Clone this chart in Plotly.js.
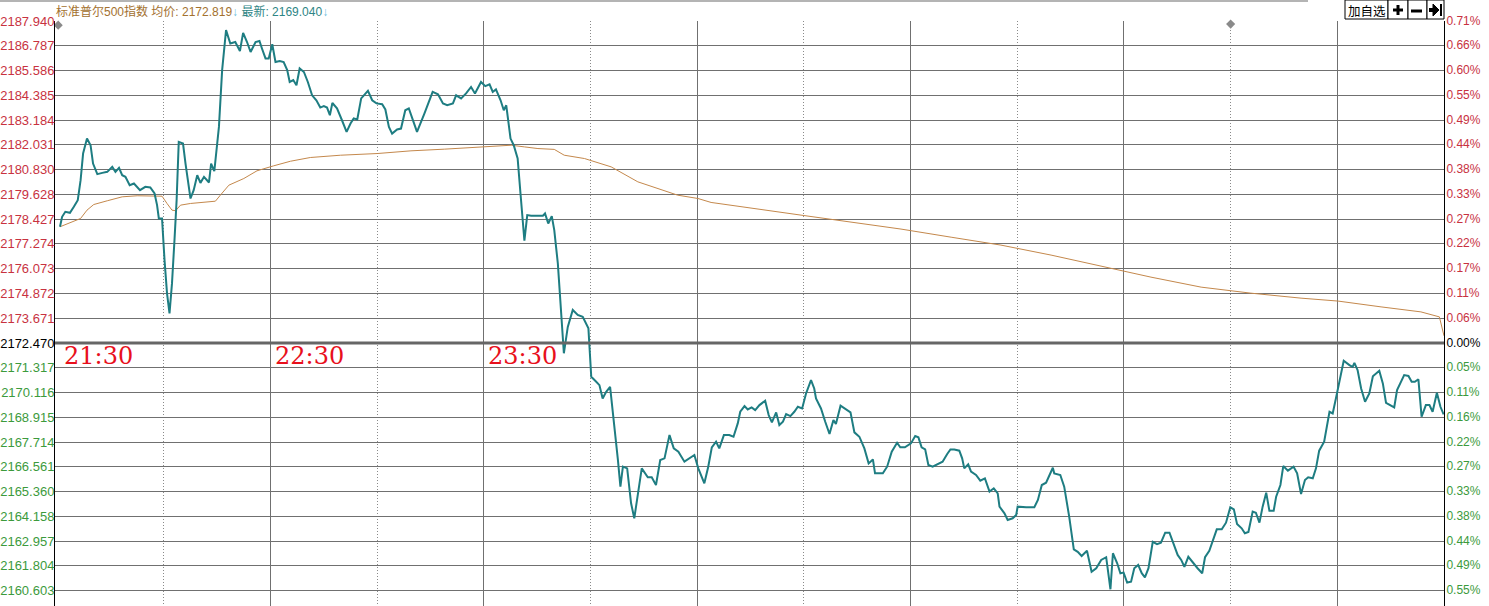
<!DOCTYPE html>
<html>
<head>
<meta charset="utf-8">
<script src="https://cdn.plot.ly/plotly-3.0.1.min.js"></script>
<style>
html,body{margin:0;padding:0;background:#fff;}
#chart{width:1489px;height:606px;}
</style>
</head>
<body>
<div id="chart"></div>
<script>
// ---- data (minutes after 21:30, price) ----
const priceMin = [0.8,1.4,2.3,3.6,4.7,5.8,6.6,7.3,8.4,9.4,10.1,11.3,12.7,14.1,15.5,16.4,17.4,18.3,19.2,20.4,
21.6,23.3,24.8,26.2,27.4,28.1,28.6,29.5,30.2,30.9,31.6,32.3,33.0,33.6,34.2,35.4,36.1,37.5,38.4,39.4,
40.3,41.3,42.7,43.3,44.2,45.5,46.4,47.5,48.7,50.1,51.4,52.3,53.4,54.4,55.8,56.9,57.6,58.6,59.5,60.5,
61.4,62.6,63.7,64.7,65.4,66.4,67.3,68.2,69.4,70.5,71.7,72.9,74.0,75.0,75.9,76.7,77.4,78.7,80.1,81.4,
82.5,83.4,84.4,85.5,87.4,88.6,89.8,91.4,92.3,93.3,94.2,95.6,96.7,97.9,98.9,99.8,101.2,103.3,105.6,107.1,
108.5,109.7,111.3,112.2,113.6,115.0,116.4,117.5,119.2,120.4,121.6,122.5,123.4,124.7,125.6,126.3,126.7,127.5,128.4,129.5,
130.3,131.4,132.2,133.3,135.2,136.6,137.2,138.1,139.1,139.8,140.8,141.5,142.5,143.6,145.0,146.4,147.8,149.4,150.2,151.6,
152.5,153.4,154.4,155.5,156.7,157.7,158.4,159.1,160.3,161.4,162.3,163.3,164.4,166.1,167.2,168.4,169.6,170.8,172.2,173.4,
174.7,176.4,177.8,179.2,180.3,182.0,183.1,184.1,185.3,186.2,187.5,189.0,190.2,191.4,192.1,193.3,194.2,195.3,196.3,197.5,
199.1,200.1,201.0,202.2,203.1,204.1,205.0,206.2,207.3,208.3,209.5,210.6,212.0,212.9,213.4,214.8,216.0,217.2,218.3,219.0,
220.3,221.4,223.1,224.2,225.6,227.0,228.2,229.4,230.0,232.2,233.4,234.7,236.2,237.1,238.4,240.1,241.3,242.2,243.1,244.1,
245.0,246.2,247.6,249.0,250.3,251.2,252.3,253.7,254.5,255.1,256.2,257.0,258.4,259.6,260.9,262.2,263.4,264.5,265.0,266.4,
267.3,268.7,269.7,270.1,272.5,274.8,275.8,276.9,278.1,280.0,280.4,282.1,283.2,284.6,285.9,287.0,288.1,289.6,290.9,292.2,
293.6,295.0,296.2,296.9,298.1,299.0,299.9,300.9,302.0,302.9,304.0,305.0,305.9,306.9,308.1,309.3,310.4,311.6,312.8,314.0,
315.1,316.1,317.0,318.1,319.3,320.7,322.0,322.8,324.0,325.0,326.1,327.5,328.7,329.9,330.9,331.8,333.1,334.0,335.0,336.2,
337.1,338.1,339.0,340.0,340.9,342.1,342.8,344.0,344.8,346.1,347.7,348.7,349.8,350.9,351.8,353.1,354.0,354.9,356.3,357.8,
358.7,359.6,360.6,361.8,363.4,364.3,364.8,365.7,366.7,367.8,369.0,370.0,371.8,372.8,373.7,376.0,376.8,378.8,380.0,380.9,
381.8,382.8,383.7,384.9,385.9,386.8,388.0,389.0,389.9];

const priceVal = [2178.06,2178.54,2178.78,2178.73,2179.02,2179.34,2180.30,2181.58,2182.30,2181.98,2181.10,2180.59,2180.65,2180.70,2180.94,2180.70,2180.89,2180.54,2180.46,2180.06,
2180.14,2179.82,2179.98,2179.95,2179.66,2179.10,2178.46,2178.46,2176.46,2174.86,2173.90,2175.34,2177.42,2179.34,2182.14,2182.06,2181.10,2179.42,2179.82,2180.54,
2180.17,2180.46,2180.19,2181.10,2180.73,2182.86,2185.59,2187.51,2186.87,2186.94,2186.51,2187.38,2186.94,2186.46,2186.94,2186.99,2186.63,2186.15,2186.15,2186.83,
2185.98,2186.03,2185.98,2185.59,2185.02,2185.11,2184.86,2185.67,2185.50,2185.02,2184.38,2184.14,2183.79,2183.86,2183.79,2183.42,2184.01,2183.75,2183.18,2182.62,
2183.02,2183.27,2183.22,2184.23,2184.59,2184.14,2183.99,2183.95,2183.70,2182.86,2182.54,2182.74,2182.78,2183.66,2183.75,2183.34,2182.62,2183.51,2184.54,2184.43,
2183.99,2183.90,2183.99,2184.38,2184.23,2184.47,2184.78,2184.47,2185.02,2184.82,2184.91,2184.54,2184.66,2184.14,2183.66,2183.90,2183.34,2182.30,2181.98,2181.34,
2179.66,2177.39,2178.62,2178.59,2178.59,2178.59,2178.70,2178.22,2178.57,2177.90,2176.30,2174.38,2171.98,2173.25,2174.06,2173.82,2173.73,2173.18,2170.85,2170.61,
2170.45,2169.81,2170.13,2170.37,2168.61,2166.85,2165.57,2166.53,2166.45,2164.77,2164.05,2165.09,2166.45,2166.02,2166.02,2165.65,2166.85,2166.93,2168.05,2167.41,
2167.25,2166.77,2166.93,2167.09,2166.45,2165.73,2166.53,2167.46,2167.73,2167.41,2168.05,2168.05,2167.97,2168.61,2169.17,2169.44,2169.28,2169.38,2169.25,2169.49,
2169.70,2169.01,2168.66,2169.14,2168.53,2168.69,2169.06,2168.96,2169.17,2169.41,2169.33,2170.05,2170.69,2170.29,2169.81,2169.33,2168.69,2168.10,2168.77,2168.58,
2169.46,2169.33,2169.14,2168.18,2167.97,2167.41,2166.69,2166.88,2166.21,2166.21,2166.53,2167.25,2167.68,2167.46,2167.46,2167.65,2168.00,2167.94,2167.46,2167.36,
2166.61,2166.53,2166.66,2166.77,2167.14,2167.36,2167.36,2167.30,2166.93,2166.45,2166.64,2166.29,2166.13,2165.86,2165.97,2165.33,2165.49,2165.25,2164.61,2164.29,
2163.97,2164.05,2164.21,2164.61,2164.58,2164.58,2164.93,2165.65,2165.76,2166.48,2166.21,2166.13,2165.57,2164.13,2162.56,2162.44,2162.24,2162.49,2161.48,2161.65,
2162.05,2162.18,2160.64,2162.37,2161.89,2161.41,2161.44,2160.96,2161.00,2161.65,2161.81,2161.41,2161.21,2161.65,2162.92,2162.81,2162.88,2163.36,2163.36,2162.85,
2162.29,2162.05,2161.72,2162.20,2161.92,2161.65,2161.41,2162.18,2162.49,2163.01,2163.52,2163.52,2163.84,2164.58,2164.48,2163.78,2163.57,2163.33,2163.39,2164.37,
2164.32,2163.84,2164.61,2165.28,2164.41,2164.41,2165.09,2165.65,2166.56,2166.34,2166.53,2166.21,2165.22,2165.89,2166.02,2165.97,2166.45,2167.30,2167.73,2169.17,
2169.09,2169.81,2170.61,2171.62,2171.41,2171.33,2171.52,2171.17,2170.29,2169.65,2170.05,2170.88,2171.14,2170.53,2169.60,2169.38,2170.21,2170.93,2170.89,2170.61,
2170.61,2170.73,2168.93,2169.49,2169.49,2169.17,2170.08,2169.41,2169.04];

const avgMin = [0.8,3.7,6.6,8.4,10.3,14.1,18.3,22.5,26.2,29.5,30.9,32.3,33.3,34.7,37.5,41.3,44.5,45.9,48.3,52.5,
56.2,60.9,65.6,71.2,79.7,90.0,99.5,108.9,120.2,127.7,131.4,135.2,139.8,142.6,148.3,155.8,163.3,168.9,174.5,180.2,
183.9,209.2,223.3,237.3,251.4,265.4,279.5,293.6,307.6,321.7,335.7,349.8,360.2,372.3,383.5,388.7,389.6,390];
const avgVal = [2178.06,2178.25,2178.46,2178.86,2179.13,2179.31,2179.50,2179.55,2179.55,2179.53,2179.18,2178.86,2178.83,2179.10,2179.18,2179.23,2179.29,2179.58,2180.06,2180.38,
2180.75,2180.99,2181.21,2181.39,2181.50,2181.58,2181.71,2181.79,2181.90,2181.98,2181.90,2181.82,2181.78,2181.50,2181.34,2180.94,2180.22,2179.90,2179.58,2179.42,
2179.23,2178.62,2178.28,2177.95,2177.56,2177.18,2176.70,2176.17,2175.64,2175.16,2174.87,2174.63,2174.49,2174.21,2173.97,2173.73,2173.01,2172.82];

const basePrice = 2172.47;
const priceTicks = [2187.940,2186.787,2185.586,2184.385,2183.184,2182.031,2180.830,2179.628,2178.427,2177.274,2176.073,2174.872,2173.671,
2172.470,2171.317,2170.116,2168.915,2167.714,2166.561,2165.360,2164.158,2162.957,2161.804,2160.603];
const priceTickLabels = ['2187.940','2186.787','2185.586','2184.385','2183.184','2182.031','2180.830','2179.628','2178.427','2177.274','2176.073','2174.872','2173.671',
'2172.470','2171.317','2170.116','2168.915','2167.714','2166.561','2165.360','2164.158','2162.957','2161.804','2160.603'];
const pctTickLabels = ['0.71%','0.66%','0.60%','0.55%','0.49%','0.44%','0.38%','0.33%','0.27%','0.22%','0.17%','0.11%','0.06%',
'0.00%','0.05%','0.11%','0.16%','0.22%','0.27%','0.33%','0.38%','0.44%','0.49%','0.55%'];
const hourGridMin = [60,120,180,240,300,360];          // xx:30 solid lines
const halfHourGridMin = [30,90,150,210,270,330,390];   // xx:00 dotted lines
const timeLabels = ['21:30','22:30','23:30'];
const timeLabelMin = [0,60,120];
const markerMin = [0.3,330];
const markerVal = [2187.75,2187.80];
const titleName = '标准普尔500指数';
const avgLast = '2172.819';
const lastPrice = '2169.040';

// ---- styling ----
const RED = '#c8323f', GREEN = '#3c9a3c', BLACK = '#000000';
function tickColor(v){ return Math.abs(v-basePrice) < 1e-6 ? BLACK : (v > basePrice ? RED : GREEN); }
const leftText = priceTicks.map((v,i)=>'<span style="color:'+tickColor(v)+'">'+priceTickLabels[i]+'</span>');
const rightText = priceTicks.map((v,i)=>'<span style="color:'+tickColor(v)+'">'+pctTickLabels[i]+'</span>');

const yRange = [2159.835, 2187.95];
const leftFont = {family:'Arial, "Liberation Sans", sans-serif', size:13, color:'#000'};
const rightFont = {family:'Arial, "Liberation Sans", sans-serif', size:12, color:'#000'};

const traces = [
  {x: avgMin, y: avgVal, type:'scatter', mode:'lines', line:{color:'#c4884c', width:1}, hoverinfo:'skip'},
  {x: priceMin, y: priceVal, type:'scatter', mode:'lines', line:{color:'#1e7d82', width:2}, hoverinfo:'skip'},
  {x: markerMin, y: markerVal, type:'scatter', mode:'markers', marker:{symbol:'diamond', size:7, color:'#8a8a8a'}, cliponaxis:false, hoverinfo:'skip'},
  {x: [0], y:[basePrice], yaxis:'y2', type:'scatter', mode:'markers', marker:{opacity:0}, hoverinfo:'skip'}
];

const annotations = timeLabels.map((t,i)=>({
  x: timeLabelMin[i], y: basePrice, xref:'x', yref:'y', text:t, showarrow:false,
  xanchor:'left', yanchor:'middle', xshift: i===0 ? 5 : 2, yshift:-13,
  font:{family:'"DejaVu Serif", serif', size:24, color:'#e8101c'}
}));
annotations.push({
  xref:'paper', yref:'paper', x:0, y:1, xanchor:'left', yanchor:'middle', xshift:-1, yshift:10, showarrow:false,
  text:'<span style="color:#a3712f">'+titleName+' 均价: '+avgLast+'</span><span style="color:#6cc0e0">↓</span> <span style="color:#2e8585">最新: '+lastPrice+'</span><span style="color:#6cc0e0">↓</span>',
  font:{family:'Arial, "Liberation Sans", "Noto Sans CJK SC", sans-serif', size:12}
});
annotations.push({
  xref:'paper', yref:'paper', x:1, y:1, xanchor:'center', yanchor:'middle', xshift:-77.5, yshift:11, showarrow:false,
  text:'加自选', font:{family:'"Noto Sans CJK SC", sans-serif', size:12.5, color:'#000'}
});

function pxShape(o){
  return Object.assign({xref:'paper', yref:'paper', xsizemode:'pixel', ysizemode:'pixel', xanchor:1, yanchor:1}, o);
}
const shapes = [
  {type:'line', xref:'paper', yref:'y', x0:0, x1:1, y0:basePrice, y1:basePrice, line:{color:'#666666', width:3}},
  pxShape({type:'line', xanchor:0, x0:-55, x1:1253, y0:20, y1:20, line:{color:'#b4b4b4', width:2}}),
  pxShape({type:'rect', x0:-99, x1:-56, y0:2, y1:21, line:{color:'#000', width:1}, fillcolor:'#fff'}),
  pxShape({type:'rect', x0:-56, x1:-36, y0:2, y1:21, line:{color:'#000', width:1}, fillcolor:'#fff'}),
  pxShape({type:'rect', x0:-36, x1:-17, y0:2, y1:21, line:{color:'#000', width:1}, fillcolor:'#fff'}),
  pxShape({type:'rect', x0:-17, x1:0, y0:2, y1:21, line:{color:'#000', width:1}, fillcolor:'#fff'}),
  pxShape({type:'line', x0:-51, x1:-41, y0:11, y1:11, line:{color:'#000', width:3}}),
  pxShape({type:'line', x0:-46, x1:-46, y0:6, y1:16, line:{color:'#000', width:3}}),
  pxShape({type:'line', x0:-33, x1:-22, y0:10, y1:10, line:{color:'#000', width:3}}),
  pxShape({type:'line', x0:-15, x1:-10, y0:11, y1:11, line:{color:'#000', width:4}}),
  pxShape({type:'path', path:'M -11 17 L -5 11 L -11 5 Z', fillcolor:'#000', line:{color:'#000', width:1}}),
  pxShape({type:'line', x0:-3, x1:-3, y0:5, y1:17, line:{color:'#000', width:2}})
];

const layout = {
  width:1489, height:606,
  margin:{l:55, r:45, t:21, b:0, pad:0},
  paper_bgcolor:'#ffffff', plot_bgcolor:'#ffffff',
  showlegend:false,
  hovermode:false,
  xaxis:{
    range:[-0.6,390], tickmode:'array', tickvals:hourGridMin, showticklabels:false, ticks:'',
    showgrid:true, gridcolor:'#707070', gridwidth:1,
    minor:{tickmode:'array', tickvals:halfHourGridMin, showgrid:true, gridcolor:'#8a8a8a', gridwidth:1, griddash:'1px,2px'},
    zeroline:false, showline:false, fixedrange:true
  },
  yaxis:{
    range:yRange, tickmode:'array', tickvals:priceTicks, ticktext:leftText,
    tickfont:leftFont, ticks:'', ticklabelstandoff:-3,
    showgrid:true, gridcolor:'#707070', gridwidth:1,
    zeroline:false, showline:true, linecolor:'#000', linewidth:1, fixedrange:true
  },
  yaxis2:{
    range:yRange, overlaying:'y', side:'right', tickmode:'array', tickvals:priceTicks, ticktext:rightText,
    tickfont:rightFont, ticks:'', ticklabelstandoff:-1,
    showgrid:false, zeroline:false, showline:true, linecolor:'#000', linewidth:1, fixedrange:true
  },
  annotations: annotations,
  shapes: shapes
};

Plotly.newPlot('chart', traces, layout, {displayModeBar:false, staticPlot:true});
</script>
</body>
</html>
